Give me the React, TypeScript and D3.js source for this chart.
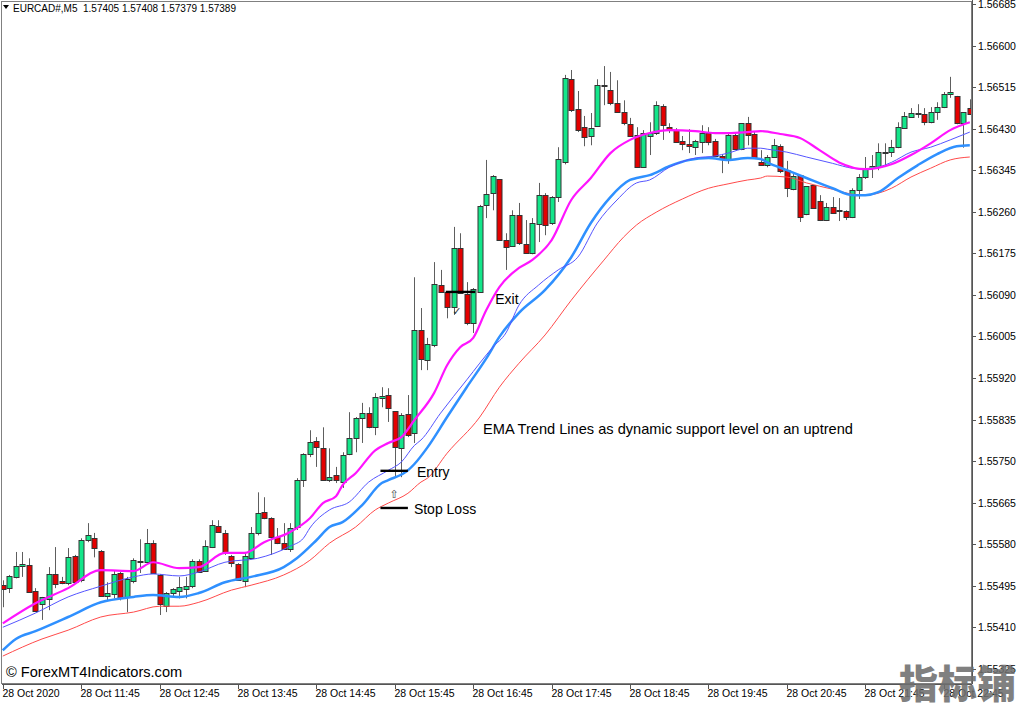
import * as d3 from 'd3';

// EURCAD M5 candles, 28 Oct 2020 10:45 onward: [open, high, low, close]
const candles: [number, number, number, number][] = [
  [1.55496, 1.55506, 1.55451, 1.55488], [1.55490, 1.55517, 1.55480, 1.55515], [1.55513, 1.55564, 1.55510, 1.55535],
  [1.55535, 1.55564, 1.55513, 1.55539], [1.55537, 1.55551, 1.55482, 1.55482], [1.55484, 1.55490, 1.55441, 1.55443],
  [1.55457, 1.55472, 1.55425, 1.55472], [1.55467, 1.55533, 1.55445, 1.55519], [1.55519, 1.55574, 1.55490, 1.55498],
  [1.55504, 1.55513, 1.55498, 1.55500], [1.55500, 1.55572, 1.55496, 1.55553], [1.55555, 1.55558, 1.55500, 1.55502],
  [1.55506, 1.55592, 1.55502, 1.55588], [1.55588, 1.55623, 1.55584, 1.55598], [1.55592, 1.55603, 1.55553, 1.55572],
  [1.55566, 1.55568, 1.55472, 1.55474], [1.55474, 1.55502, 1.55465, 1.55480], [1.55478, 1.55527, 1.55469, 1.55519],
  [1.55521, 1.55523, 1.55465, 1.55469], [1.55472, 1.55513, 1.55441, 1.55508], [1.55504, 1.55551, 1.55500, 1.55547],
  [1.55543, 1.55590, 1.55521, 1.55545], [1.55543, 1.55611, 1.55541, 1.55582], [1.55582, 1.55588, 1.55519, 1.55521],
  [1.55517, 1.55519, 1.55435, 1.55457], [1.55453, 1.55482, 1.55441, 1.55480], [1.55480, 1.55490, 1.55472, 1.55488],
  [1.55484, 1.55513, 1.55469, 1.55492], [1.55488, 1.55513, 1.55469, 1.55494], [1.55494, 1.55549, 1.55490, 1.55545],
  [1.55545, 1.55549, 1.55521, 1.55523], [1.55525, 1.55588, 1.55523, 1.55576], [1.55574, 1.55629, 1.55572, 1.55619],
  [1.55617, 1.55629, 1.55603, 1.55605], [1.55603, 1.55609, 1.55558, 1.55562], [1.55555, 1.55558, 1.55533, 1.55541],
  [1.55539, 1.55541, 1.55506, 1.55506], [1.55504, 1.55562, 1.55492, 1.55555], [1.55551, 1.55615, 1.55549, 1.55603],
  [1.55603, 1.55686, 1.55598, 1.55643], [1.55645, 1.55676, 1.55631, 1.55633], [1.55633, 1.55635, 1.55558, 1.55594],
  [1.55594, 1.55613, 1.55580, 1.55582], [1.55582, 1.55623, 1.55568, 1.55570], [1.55570, 1.55623, 1.55564, 1.55613],
  [1.55615, 1.55715, 1.55609, 1.55711], [1.55711, 1.55766, 1.55697, 1.55764], [1.55764, 1.55813, 1.55758, 1.55789],
  [1.55791, 1.55799, 1.55738, 1.55778], [1.55776, 1.55819, 1.55711, 1.55711], [1.55711, 1.55776, 1.55707, 1.55717],
  [1.55721, 1.55738, 1.55705, 1.55711], [1.55707, 1.55768, 1.55695, 1.55762], [1.55764, 1.55850, 1.55762, 1.55797],
  [1.55797, 1.55840, 1.55768, 1.55838], [1.55838, 1.55869, 1.55787, 1.55848], [1.55848, 1.55860, 1.55817, 1.55819],
  [1.55819, 1.55889, 1.55803, 1.55881], [1.55879, 1.55901, 1.55860, 1.55883], [1.55885, 1.55899, 1.55830, 1.55858],
  [1.55852, 1.55852, 1.55717, 1.55778], [1.55776, 1.55848, 1.55717, 1.55844], [1.55846, 1.55885, 1.55799, 1.55803],
  [1.55807, 1.56126, 1.55787, 1.56018], [1.56018, 1.56063, 1.55936, 1.55958], [1.55956, 1.56002, 1.55936, 1.55989],
  [1.55987, 1.56157, 1.55983, 1.56112], [1.56110, 1.56141, 1.56094, 1.56096], [1.56096, 1.56096, 1.56042, 1.56065],
  [1.56065, 1.56229, 1.56049, 1.56186], [1.56186, 1.56216, 1.56094, 1.56094], [1.56092, 1.56116, 1.56028, 1.56032],
  [1.56032, 1.56104, 1.56012, 1.56102], [1.56096, 1.56274, 1.56094, 1.56272], [1.56274, 1.56366, 1.56247, 1.56296],
  [1.56298, 1.56335, 1.56263, 1.56333], [1.56327, 1.56327, 1.56202, 1.56202], [1.56202, 1.56216, 1.56141, 1.56188],
  [1.56190, 1.56263, 1.56188, 1.56253], [1.56253, 1.56278, 1.56192, 1.56196], [1.56194, 1.56243, 1.56175, 1.56175],
  [1.56175, 1.56247, 1.56173, 1.56237], [1.56235, 1.56319, 1.56198, 1.56294], [1.56294, 1.56298, 1.56212, 1.56233],
  [1.56237, 1.56292, 1.56233, 1.56290], [1.56290, 1.56392, 1.56280, 1.56368], [1.56361, 1.56540, 1.56357, 1.56533],
  [1.56531, 1.56550, 1.56464, 1.56468], [1.56470, 1.56507, 1.56423, 1.56427], [1.56433, 1.56456, 1.56394, 1.56413],
  [1.56415, 1.56462, 1.56396, 1.56431], [1.56435, 1.56531, 1.56435, 1.56519], [1.56517, 1.56558, 1.56478, 1.56519],
  [1.56509, 1.56546, 1.56478, 1.56482], [1.56482, 1.56529, 1.56462, 1.56464], [1.56464, 1.56488, 1.56437, 1.56441],
  [1.56439, 1.56452, 1.56415, 1.56415], [1.56417, 1.56433, 1.56351, 1.56351], [1.56351, 1.56427, 1.56351, 1.56421],
  [1.56415, 1.56443, 1.56376, 1.56421], [1.56421, 1.56486, 1.56417, 1.56478], [1.56476, 1.56480, 1.56407, 1.56437],
  [1.56433, 1.56441, 1.56421, 1.56427], [1.56427, 1.56431, 1.56403, 1.56403], [1.56405, 1.56415, 1.56386, 1.56398],
  [1.56398, 1.56429, 1.56380, 1.56394], [1.56392, 1.56407, 1.56376, 1.56405], [1.56403, 1.56437, 1.56380, 1.56421],
  [1.56421, 1.56433, 1.56396, 1.56403], [1.56405, 1.56409, 1.56374, 1.56374], [1.56374, 1.56378, 1.56339, 1.56368],
  [1.56368, 1.56421, 1.56358, 1.56417], [1.56417, 1.56421, 1.56386, 1.56388], [1.56388, 1.56441, 1.56386, 1.56441],
  [1.56441, 1.56454, 1.56396, 1.56417], [1.56419, 1.56423, 1.56370, 1.56370], [1.56361, 1.56386, 1.56355, 1.56355],
  [1.56355, 1.56376, 1.56351, 1.56372], [1.56372, 1.56409, 1.56372, 1.56396], [1.56394, 1.56398, 1.56339, 1.56343],
  [1.56345, 1.56364, 1.56290, 1.56308], [1.56306, 1.56337, 1.56304, 1.56333], [1.56335, 1.56335, 1.56239, 1.56249],
  [1.56255, 1.56312, 1.56253, 1.56312], [1.56314, 1.56314, 1.56267, 1.56267], [1.56282, 1.56294, 1.56241, 1.56243],
  [1.56243, 1.56278, 1.56241, 1.56269], [1.56269, 1.56290, 1.56257, 1.56257], [1.56261, 1.56288, 1.56241, 1.56263],
  [1.56261, 1.56263, 1.56243, 1.56249], [1.56249, 1.56308, 1.56247, 1.56304], [1.56304, 1.56337, 1.56286, 1.56331],
  [1.56331, 1.56372, 1.56327, 1.56349], [1.56349, 1.56376, 1.56329, 1.56353], [1.56351, 1.56400, 1.56345, 1.56382],
  [1.56380, 1.56400, 1.56355, 1.56382], [1.56382, 1.56407, 1.56372, 1.56392], [1.56392, 1.56443, 1.56390, 1.56433],
  [1.56431, 1.56464, 1.56431, 1.56456], [1.56454, 1.56472, 1.56452, 1.56462], [1.56460, 1.56480, 1.56452, 1.56462],
  [1.56460, 1.56472, 1.56437, 1.56443], [1.56443, 1.56474, 1.56441, 1.56464], [1.56464, 1.56484, 1.56448, 1.56474],
  [1.56474, 1.56505, 1.56472, 1.56501], [1.56501, 1.56536, 1.56493, 1.56505], [1.56497, 1.56497, 1.56439, 1.56441],
  [1.56441, 1.56464, 1.56391, 1.56464], [1.56472, 1.56490, 1.56458, 1.56460],
];

// EMA trend lines: [bar index, price]
const emaMagenta: [number, number][] = [
  [0, 1.55418], [5, 1.55459], [10, 1.55490], [15, 1.55527], [20, 1.55525], [23, 1.55543], [27, 1.55531],
  [30, 1.55533], [34, 1.55562], [37, 1.55562], [40, 1.55584], [44, 1.55605], [47, 1.55633], [49, 1.55664],
  [51, 1.55678], [52, 1.55701], [54, 1.55725], [57, 1.55772], [59, 1.55787], [61, 1.55799], [63, 1.55834],
  [66, 1.55889], [68, 1.55946], [70, 1.55983], [72, 1.56002], [74, 1.56059], [76, 1.56106], [79, 1.56145],
  [81, 1.56161], [84, 1.56202], [87, 1.56284], [90, 1.56329], [93, 1.56380], [96, 1.56407], [99, 1.56421],
  [102, 1.56427], [106, 1.56425], [109, 1.56421], [111, 1.56421], [114, 1.56423], [116, 1.56425], [119, 1.56419],
  [122, 1.56411], [125, 1.56386], [128, 1.56361], [132, 1.56347], [136, 1.56357], [139, 1.56376], [142, 1.56400],
  [145, 1.56427], [148, 1.56443],
];
const emaBlueThin: [number, number][] = [
  [0, 1.55410], [5, 1.55439], [10, 1.55472], [15, 1.55494], [20, 1.55513], [23, 1.55519], [27, 1.55515],
  [30, 1.55523], [34, 1.55543], [39, 1.55551], [44, 1.55576], [46, 1.55592], [47, 1.55613], [50, 1.55650],
  [53, 1.55666], [56, 1.55707], [59, 1.55731], [61, 1.55748], [63, 1.55782], [64, 1.55793], [67, 1.55848],
  [71, 1.55916], [75, 1.55983], [77, 1.56012], [79, 1.56069], [82, 1.56110], [85, 1.56141], [88, 1.56167],
  [91, 1.56237], [94, 1.56284], [97, 1.56319], [99, 1.56325], [102, 1.56351], [106, 1.56370], [109, 1.56374],
  [111, 1.56380], [114, 1.56390], [116, 1.56390], [117, 1.56388], [120, 1.56382], [123, 1.56372], [127, 1.56359],
  [130, 1.56349], [132, 1.56347], [134, 1.56351], [136, 1.56361], [139, 1.56382], [142, 1.56392], [145, 1.56407],
  [148, 1.56423],
];
const emaDodger: [number, number][] = [
  [0, 1.55363], [2, 1.55386], [5, 1.55402], [10, 1.55431], [15, 1.55461], [20, 1.55472], [23, 1.55476],
  [27, 1.55472], [30, 1.55480], [34, 1.55502], [38, 1.55513], [43, 1.55533], [45, 1.55551], [48, 1.55588],
  [50, 1.55615], [52, 1.55625], [55, 1.55660], [58, 1.55705], [59, 1.55711], [62, 1.55731], [63, 1.55744],
  [65, 1.55778], [68, 1.55840], [71, 1.55901], [74, 1.55960], [76, 1.56004], [79, 1.56053], [83, 1.56100],
  [87, 1.56167], [90, 1.56237], [93, 1.56290], [96, 1.56325], [97, 1.56329], [99, 1.56335], [102, 1.56353],
  [105, 1.56366], [108, 1.56370], [111, 1.56366], [114, 1.56370], [116, 1.56368], [117, 1.56361], [120, 1.56345],
  [123, 1.56329], [127, 1.56308], [130, 1.56294], [132, 1.56294], [134, 1.56300], [137, 1.56329], [140, 1.56355],
  [143, 1.56378], [146, 1.56394], [148, 1.56396],
];
const emaRed: [number, number][] = [
  [0, 1.55351], [6, 1.55386], [10, 1.55404], [15, 1.55431], [20, 1.55441], [24, 1.55453], [27, 1.55453],
  [30, 1.55461], [35, 1.55486], [38, 1.55496], [43, 1.55517], [47, 1.55547], [50, 1.55582], [54, 1.55615],
  [57, 1.55650], [59, 1.55664], [62, 1.55684], [64, 1.55707], [65, 1.55715], [68, 1.55766], [73, 1.55840],
  [76, 1.55901], [79, 1.55950], [83, 1.56008], [87, 1.56079], [92, 1.56161], [95, 1.56208], [97, 1.56233],
  [100, 1.56259], [104, 1.56286], [108, 1.56308], [111, 1.56317], [114, 1.56325], [116, 1.56329], [117, 1.56333],
  [120, 1.56331], [123, 1.56319], [127, 1.56306], [130, 1.56296], [132, 1.56294], [134, 1.56298], [136, 1.56308],
  [139, 1.56331], [142, 1.56349], [145, 1.56366], [148, 1.56372],
];

const priceTicks = [
  1.56685, 1.566, 1.56515, 1.5643, 1.56345, 1.5626, 1.56175, 1.5609, 1.56005,
  1.5592, 1.55835, 1.5575, 1.55665, 1.5558, 1.55495, 1.5541, 1.55325,
];
const timeLabels = [
  '28 Oct 2020', '28 Oct 11:45', '28 Oct 12:45', '28 Oct 13:45', '28 Oct 14:45', '28 Oct 15:45', '28 Oct 16:45',
  '28 Oct 17:45', '28 Oct 18:45', '28 Oct 19:45', '28 Oct 20:45', '28 Oct 21:45', '28 Oct 22:45',
];

// trade levels: [first bar, last bar, price]
const entryLevel: [number, number, number] = [57.8, 62, 1.5573];
const stopLevel: [number, number, number] = [57.8, 62, 1.55654];
const exitLevel: [number, number, number] = [67.8, 72.3, 1.56096];

const W = 1024;
const H = 704;
const frame = { left: 2, right: 972, top: 2, bottom: 684 };
const FONT = '"Liberation Sans", Arial, sans-serif';

export default function App() {
  const x = d3.scaleLinear().domain([0, candles.length - 1]).range([2.8, 969.8]);
  const y = d3.scaleLinear().domain([1.5541, 1.56685]).range([627.25, 4]);

  const line = d3.line<[number, number]>()
    .x(d => x(d[0]))
    .y(d => y(d[1]))
    .curve(d3.curveMonotoneX);

  const bodyW = 5;

  return (
    <svg width={W} height={H} style={{ position: 'absolute', left: 0, top: 0, background: '#fff' }}>
      <defs>
        <clipPath id="plot">
          <rect x={frame.left} y={frame.top} width={frame.right - frame.left} height={frame.bottom - frame.top} />
        </clipPath>
      </defs>
      <rect x={0} y={0} width={W} height={H} fill="#fff" />

      <g clipPath="url(#plot)">
        {/* candles */}
        {candles.map((c, i) => {
          const [o, h, l, cl] = c;
          const cx = Math.round(x(i)) + 0.5;
          const up = cl >= o;
          const top = Math.round(y(Math.max(o, cl)));
          const bot = Math.round(y(Math.min(o, cl)));
          return (
            <g key={i}>
              <line x1={cx} x2={cx} y1={y(h)} y2={y(l)} stroke="#5e5e5e" strokeWidth={1} />
              <rect
                x={cx - bodyW / 2}
                y={top + 0.5}
                width={bodyW}
                height={Math.max(bot - top, 1)}
                fill={up ? '#14e68a' : '#e40000'}
                stroke="#333"
                strokeWidth={1}
              />
            </g>
          );
        })}

        {/* EMA lines */}
        <path d={line(emaRed) || ''} fill="none" stroke="#ff4a4a" strokeWidth={1} />
        <path d={line(emaDodger) || ''} fill="none" stroke="#2f90ff" strokeWidth={2.5} />
        <path d={line(emaBlueThin) || ''} fill="none" stroke="#5555ff" strokeWidth={1} />
        <path d={line(emaMagenta) || ''} fill="none" stroke="#ff14ff" strokeWidth={2.2} />

        {/* trade annotations */}
        {[entryLevel, stopLevel, exitLevel].map((lv, i) => (
          <line key={i} x1={x(lv[0])} x2={x(lv[1])} y1={y(lv[2])} y2={y(lv[2])} stroke="#000" strokeWidth={2.4} />
        ))}
        <text x={x(exitLevel[1]) + 20} y={y(exitLevel[2]) + 12} fontFamily={FONT} fontSize={14}>Exit</text>
        <text x={x(entryLevel[1]) + 9} y={y(entryLevel[2]) + 6} fontFamily={FONT} fontSize={14}>Entry</text>
        <text x={x(stopLevel[1]) + 6} y={y(stopLevel[2]) + 6} fontFamily={FONT} fontSize={14}>Stop Loss</text>
        <text x={x(59.9)} y={y(1.55684) + 5} fontFamily='"DejaVu Sans", sans-serif' fontSize={11} textAnchor="middle" fill="#444">⇧</text>
        <text x={x(69.5)} y={y(1.56057) + 4} fontFamily='"DejaVu Sans", sans-serif' fontSize={11} textAnchor="middle" fill="#333">✓</text>
        <text x={483} y={434} fontFamily={FONT} fontSize={14.6}>EMA Trend Lines as dynamic support level on an uptrend</text>

        <text x={6} y={677} fontFamily={FONT} fontSize={14.6}>© ForexMT4Indicators.com</text>
      </g>

      {/* frame */}
      <rect
        x={frame.left - 0.5}
        y={frame.top - 0.5}
        width={frame.right - frame.left}
        height={frame.bottom - frame.top}
        fill="none"
        stroke="#808080"
        strokeWidth={1}
      />
      <line x1={frame.right + 0.5} x2={frame.right + 0.5} y1={0} y2={frame.bottom} stroke="#555" />
      <line x1={frame.left} x2={frame.right} y1={frame.bottom + 0.5} y2={frame.bottom + 0.5} stroke="#555" />

      {/* price axis */}
      {priceTicks.map(p => (
        <g key={p}>
          <line x1={frame.right} x2={frame.right + 4} y1={Math.round(y(p)) + 0.5} y2={Math.round(y(p)) + 0.5} stroke="#555" />
          <text x={978} y={y(p) + 4} fontFamily={FONT} fontSize={10.5} fill="#000">{p.toFixed(5)}</text>
        </g>
      ))}

      {/* time axis */}
      {timeLabels.map((t, i) => {
        const tx = Math.round(x(i * 12)) + 0.5;
        return (
          <g key={t}>
            <line x1={tx} x2={tx} y1={frame.bottom} y2={frame.bottom + 5} stroke="#555" />
            <text x={tx - 1} y={697} fontFamily={FONT} fontSize={10.5} fill="#000">{t}</text>
          </g>
        );
      })}

      {/* header */}
      <path d="M3,5 L9,5 L6,9 Z" fill="#000" />
      <text x={13} y={12} fontFamily={FONT} fontSize={10} fill="#000" style={{ whiteSpace: 'pre' }}>
        {'EURCAD#,M5  1.57405 1.57408 1.57379 1.57389'}
      </text>

      {/* watermark */}
      <text
        x={899}
        y={698}
        fontFamily='"Noto Sans CJK SC", sans-serif'
        fontWeight={900}
        fontSize={39}
        fill="#6f6f6f"
        opacity={0.88}
      >
        指标铺
      </text>
    </svg>
  );
}
